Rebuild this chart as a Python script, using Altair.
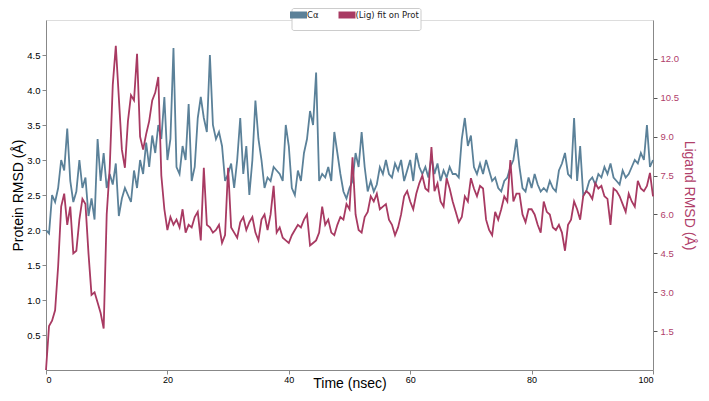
import altair as alt
import pandas as pd

# time axis (ns), sampled every 0.5 ns
time_ns = [i * 0.5 for i in range(201)]

protein_rmsd = [
    2.0, 1.95, 2.5, 2.4, 2.6, 3.0, 2.85, 3.45, 2.7, 2.4,
    2.55, 3.0, 2.6, 2.75, 2.2, 2.45, 2.15, 3.3, 2.7, 3.1,
    2.6, 2.8, 2.65, 2.95, 2.2, 2.45, 2.6, 2.5, 2.4, 2.85,
    2.6, 3.0, 2.8, 3.25, 2.9, 3.35, 3.1, 3.5, 3.3, 3.9,
    3.0, 3.3, 4.6, 2.9, 2.8, 3.2, 3.0, 3.8, 2.7, 2.9,
    3.6, 3.9, 3.6, 3.4, 4.5, 3.5, 3.3, 3.4, 3.2, 2.7,
    2.8, 2.95, 2.6, 3.0, 3.6, 2.8, 3.2, 2.5, 3.0, 3.85,
    3.3, 3.0, 2.6, 2.75, 2.7, 2.9, 2.85, 2.8, 2.7, 3.5,
    3.2, 2.6, 2.5, 2.85, 2.7, 3.1, 3.3, 3.7, 3.5, 4.25,
    2.7, 2.8, 2.75, 2.9, 2.7, 3.4, 3.1, 2.8, 2.55, 2.45,
    2.6, 2.7, 3.1, 2.9, 3.4, 2.9, 2.55, 2.7, 2.55, 2.65,
    2.9, 2.8, 3.0, 2.8, 2.75, 2.95, 2.85, 3.0, 2.7, 2.85,
    3.0, 2.7, 3.1, 2.9, 2.8, 2.9, 2.75, 3.05, 2.8, 2.95,
    2.7, 2.85, 2.75, 2.9, 2.8, 2.8, 2.75, 3.3, 3.6, 3.2,
    3.35, 2.9, 2.8, 2.95, 2.8, 3.0, 2.85, 2.7, 2.75, 2.6,
    2.55, 2.7, 2.75, 2.9, 3.0, 3.3, 2.9, 2.6, 2.55, 2.75,
    2.6, 2.8, 2.65, 2.55, 2.6, 2.55, 2.7, 2.6, 2.55, 2.85,
    2.95, 3.1, 2.8, 2.75, 3.6, 2.7, 3.2, 2.5, 2.55, 2.7,
    2.75, 2.65, 2.8, 2.75, 2.9, 2.8, 2.95, 2.75, 2.7, 2.65,
    2.85, 2.75, 2.8, 2.9, 3.0, 2.95, 3.1, 3.0, 3.5, 2.9,
    3.0,
]

ligand_rmsd = [
    0.0, 1.7, 1.9, 2.3, 4.0, 6.3, 6.8, 5.6, 6.3, 4.5,
    4.6, 5.8, 6.6, 6.4, 4.5, 2.9, 3.0, 2.6, 2.2, 1.6,
    6.0, 7.8, 11.0, 12.5, 10.5, 8.5, 7.8, 9.6, 10.6, 10.4,
    12.2, 9.0, 8.5, 9.1, 9.6, 10.4, 10.7, 11.3, 7.5, 6.2,
    5.4, 5.9, 5.6, 5.8, 5.5, 6.2, 5.3, 5.6, 5.5, 5.9,
    6.1, 5.0, 7.8, 5.6, 5.5, 5.3, 5.4, 5.6, 4.9, 5.2,
    7.8, 5.5, 5.3, 5.1, 5.7, 5.9, 5.4, 5.7, 5.9, 5.3,
    5.0, 5.8, 6.0, 5.4, 6.0, 7.1, 5.3, 5.5, 5.1, 5.0,
    4.9, 5.2, 5.4, 5.6, 5.5, 5.8, 6.0, 4.8, 4.9, 5.0,
    5.3, 6.3, 5.6, 5.8, 5.3, 5.2, 5.6, 5.9, 5.8, 6.4,
    6.2, 8.2, 6.0, 5.4, 5.3, 5.9, 6.1, 6.7, 6.5, 6.8,
    6.2, 6.3, 6.4, 5.8, 5.6, 5.2, 5.5, 6.0, 6.7, 6.9,
    6.5, 6.2, 6.8, 7.2, 7.5, 7.0, 6.9, 8.6, 6.9, 7.2,
    6.5, 6.3, 7.4, 7.0, 6.5, 6.1, 5.7, 5.9, 6.7, 6.5,
    7.4, 7.0, 6.7, 7.1, 7.0, 5.8, 5.4, 5.2, 6.1, 5.8,
    6.2, 6.7, 6.5, 8.1, 6.5, 6.8, 6.8, 6.0, 5.7, 6.2,
    6.2, 6.0, 5.6, 5.3, 6.5, 6.1, 6.0, 5.5, 5.4, 5.6,
    5.3, 4.6, 5.6, 5.8, 6.5, 6.2, 5.8, 6.7, 6.9, 6.8,
    6.6, 7.2, 7.0, 7.1, 6.7, 6.6, 5.6, 7.0, 6.9, 6.7,
    6.4, 6.1, 6.8, 6.5, 6.3, 7.3, 7.0, 6.9, 7.1, 7.6,
    6.7,
]

series_names = ["C\u03b1", "(Lig) fit on Prot"]
series_colors = ["#5b8199", "#a83a62"]
left_ticks = [0.5, 1.0, 1.5, 2.0, 2.5, 3.0, 3.5, 4.0, 4.5]
right_ticks = [1.5, 3.0, 4.5, 6.0, 7.5, 9.0, 10.5, 12.0]
x_ticks = [0, 20, 40, 60, 80, 100]

prot_df = pd.DataFrame({"time": time_ns, "rmsd": protein_rmsd, "series": series_names[0]})
lig_df = pd.DataFrame({"time": time_ns, "rmsd": ligand_rmsd, "series": series_names[1]})

FONT = "DejaVu Sans"
color_scale = alt.Scale(domain=series_names, range=series_colors)

legend = alt.Legend(
    title=None,
    orient="none",
    legendX=245.5,
    legendY=-12,
    direction="horizontal",
    symbolType="M-3.4,0H3.4",
    symbolSize=25,
    symbolStrokeWidth=7,
    symbolOpacity=1,
    labelFont=FONT,
    labelFontSize=8.5,
    labelColor="#222",
    labelOffset=2.5,
    columnPadding=2.5,
    strokeColor="#cccccc",
    padding=1,
    cornerRadius=2,
    fillColor="white",
)

x_enc = alt.X(
    "time:Q",
    scale=alt.Scale(domain=[0, 100], nice=False),
    axis=alt.Axis(
        values=x_ticks, title="Time (nsec)", grid=False, labelFontSize=9,
        titleFontSize=14, titleFontWeight="normal", titlePadding=-8,
        tickSize=4, labelPadding=1, format="d",
    ),
)

prot = alt.Chart(prot_df).mark_line(strokeWidth=1.8).encode(
    x=x_enc,
    y=alt.Y(
        "rmsd:Q",
        scale=alt.Scale(domain=[0, 5.0], nice=False),
        axis=alt.Axis(
            values=left_ticks, format=".1f", title="Protein RMSD (\u00c5)",
            grid=False, labelFontSize=9.5, titleFontSize=14,
            titleFontWeight="normal", titlePadding=1, tickSize=4,
            labelPadding=2,
        ),
    ),
    color=alt.Color("series:N", scale=color_scale, legend=legend),
)

lig = alt.Chart(lig_df).mark_line(strokeWidth=1.8).encode(
    x=alt.X("time:Q", scale=alt.Scale(domain=[0, 100], nice=False)),
    y=alt.Y(
        "rmsd:Q",
        scale=alt.Scale(domain=[0, 13.5], nice=False),
        axis=alt.Axis(
            orient="right", values=right_ticks, format=".1f",
            title="Ligand RMSD (\u00c5)", grid=False, labelFontSize=9.5,
            labelColor="#b0406a", titleColor="#b0406a", titleFontSize=14,
            titleFontWeight="normal", titlePadding=3, tickSize=4,
            labelPadding=3, tickColor="#555",
        ),
    ),
    color=alt.Color("series:N", scale=color_scale, legend=legend),
)

chart = (
    alt.layer(prot, lig)
    .resolve_scale(y="independent")
    .properties(
        width=607,
        height=350,
        autosize=alt.AutoSizeParams(type="none"),
        padding={"left": 38, "top": 12, "right": 48, "bottom": 23},
    )
    .configure_view(stroke="#555555", strokeWidth=1.2)
    .configure_axis(
        labelFont=FONT, titleFont=FONT, domainColor="#555555",
        tickColor="#555555", labelColor="#333333", titleColor="#111111",
    )
    .configure(background="white")
)

chart.save("out.html", embed_options={"renderer": "svg", "actions": False})
